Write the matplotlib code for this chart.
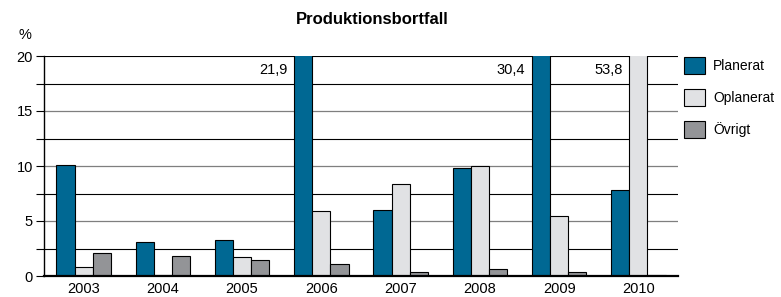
import matplotlib
matplotlib.use("Agg")
import matplotlib.pyplot as plt
import numpy as np
from matplotlib.patches import Patch

plt.rcParams['font.family'] = ['Liberation Sans', 'DejaVu Sans']

years = ['2003', '2004', '2005', '2006', '2007', '2008', '2009', '2010']
planerat = [10.1, 3.1, 3.3, 21.9, 6.0, 9.8, 30.4, 7.8]
oplanerat = [0.8, 0.1, 1.7, 5.9, 8.4, 10.0, 5.5, 53.8]
ovrigt = [2.1, 1.8, 1.5, 1.1, 0.4, 0.6, 0.4, 0.1]
series_names = ['Planerat', 'Oplanerat', 'Övrigt']
colors = ['#006893', '#E1E2E4', '#939497']
ymax = 20

fig = plt.figure(figsize=(7.81, 2.97), dpi=100)
ax = fig.add_axes([44/781, 1-276/297, (678-44)/781, 220/297])

x = np.arange(len(years))
w = 0.23
for i, (vals, c) in enumerate(zip([planerat, oplanerat, ovrigt], colors)):
    ax.bar(x + (i-1)*w, vals, width=w, color=c, edgecolor='black', linewidth=0.8, zorder=3)

ax.set_xlim(-0.5, len(years)-0.5)
ax.set_ylim(0, ymax)
ax.set_yticks([0, 5, 10, 15, 20])
ax.set_yticks([2.5, 7.5, 12.5, 17.5], minor=True)
ax.set_xticks(x)
ax.set_xticklabels(years)
ax.tick_params(axis='x', length=0, labelsize=10.5, pad=4)
ax.tick_params(axis='y', which='both', length=6, width=0.8, labelsize=10.5, pad=2, color='black')
for v in [5, 10, 15]:
    ax.axhline(v, color='#7f7f7f', lw=0.9, zorder=1)
for v in [2.5, 7.5, 12.5, 17.5, 20]:
    ax.axhline(v, color='black', lw=0.8, zorder=1)
for s in ['top', 'right']:
    ax.spines[s].set_visible(False)
ax.spines['left'].set_linewidth(1.0)
ax.spines['bottom'].set_linewidth(1.6)
ax.spines['bottom'].set_zorder(5)

# labels for clipped bars
allvals = [planerat, oplanerat, ovrigt]
for i, vals in enumerate(allvals):
    for j, v in enumerate(vals):
        if v > ymax:
            xb = j + (i-1)*w - w/2
            ax.text(xb - 0.08, 19.4, f"{v:.1f}".replace('.', ','), ha='right', va='top', fontsize=10.5)

fig.text(372/781, 1-20/297, 'Produktionsbortfall', ha='center', va='center', fontsize=12, fontweight='bold')
fig.text(25/781, 1-35/297, '%', ha='center', va='center', fontsize=10.5)

handles = [Patch(facecolor=c, edgecolor='black', linewidth=0.8) for c in colors]
fig.legend(handles, series_names, loc='upper left', bbox_to_anchor=(681/781, 1-54/297),
           frameon=False, fontsize=10, handlelength=1.5, handleheight=1.5,
           labelspacing=1.1, handletextpad=0.6, borderaxespad=0, borderpad=0.2)

fig.savefig('out.png', dpi=100)
